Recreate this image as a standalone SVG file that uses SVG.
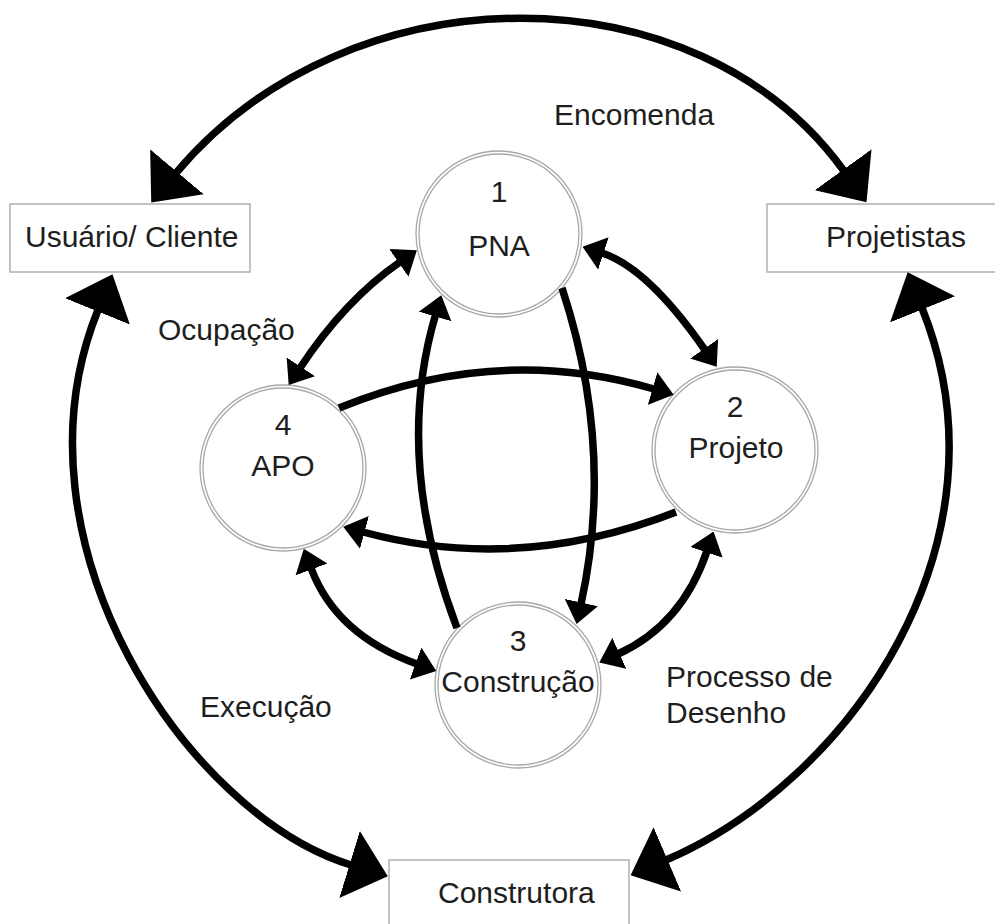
<svg xmlns="http://www.w3.org/2000/svg" width="995" height="924" viewBox="0 0 995 924">
<style>
.lbl{font-family:"Liberation Sans",Arial,sans-serif;font-size:30px;fill:#1e1e1e}
.mid{text-anchor:middle}
.box{fill:#fff;stroke:#b4b4b4;stroke-width:1.6}
.ring{fill:#fff;stroke:#a8a8a8;stroke-width:1.3}
.ring2{fill:none;stroke:#a8a8a8;stroke-width:1.3}
.big{fill:none;stroke:#000;stroke-width:7.5;marker-start:url(#ab);marker-end:url(#ab)}
.dbl{fill:none;stroke:#000;stroke-width:7.5;marker-start:url(#as);marker-end:url(#as)}
.one{fill:none;stroke:#000;stroke-width:7.5;marker-end:url(#as)}
</style>
<defs>
<marker id="ab" viewBox="0 0 40 70" refX="1.5" refY="35" markerWidth="40" markerHeight="70" orient="auto-start-reverse" markerUnits="userSpaceOnUse"><path d="M0,0 L40,35 L0,70 z" fill="#000"/></marker>
<marker id="as" viewBox="0 0 22 34" refX="1.5" refY="17" markerWidth="22" markerHeight="34" orient="auto-start-reverse" markerUnits="userSpaceOnUse"><path d="M0,0 L22,17 L0,34 z" fill="#000"/></marker>
</defs>
<rect width="995" height="924" fill="#fff"/>
<g id="usuario"><rect class="box" x="10" y="204" width="240" height="68"/><text class="lbl" x="25" y="247">Usuário/ Cliente</text></g>
<g id="projetistas"><rect class="box" x="767" y="204" width="240" height="68"/><text class="lbl" x="826" y="247">Projetistas</text></g>
<g id="construtora"><rect class="box" x="389" y="860" width="240" height="80"/><text class="lbl" x="438" y="903">Construtora</text></g>
<g id="pna"><circle class="ring" cx="499" cy="234" r="83"/><circle class="ring2" cx="499" cy="234" r="80"/><text class="lbl mid" x="499" y="202">1</text><text class="lbl mid" x="499" y="256">PNA</text></g>
<g id="projeto"><circle class="ring" cx="735" cy="450" r="83"/><circle class="ring2" cx="735" cy="450" r="80"/><text class="lbl mid" x="735" y="417">2</text><text class="lbl mid" x="736" y="458">Projeto</text></g>
<g id="construcao"><circle class="ring" cx="518" cy="685" r="83"/><circle class="ring2" cx="518" cy="685" r="80"/><text class="lbl mid" x="518" y="651">3</text><text class="lbl mid" x="518" y="692">Construção</text></g>
<g id="apo"><circle class="ring" cx="283" cy="468" r="83"/><circle class="ring2" cx="283" cy="468" r="80"/><text class="lbl mid" x="283" y="435">4</text><text class="lbl mid" x="283" y="476">APO</text></g>
<g id="connectors">
<path class="big" d="M176,173 C349,-33 697,-33 844,171"/>
<path class="big" d="M98,310 C4,542 188,815 351,865"/>
<path class="big" d="M922,308 C1016,542 850,781 666,860"/>
<path class="dbl" d="M300,368 Q345,300 400,262"/>
<path class="dbl" d="M602,253 Q648,268 705,350"/>
<path class="dbl" d="M311,568 Q336,635 417,664"/>
<path class="dbl" d="M707,551 Q682,625 618,654"/>
<path class="one" d="M339,408 Q497,343 654,389"/>
<path class="one" d="M676,512 Q518,574 363,532"/>
<path class="one" d="M562,288 Q615,449 581,604"/>
<path class="one" d="M457,628 Q393,459 435.5,315"/>
</g>
<g id="labels">
<text class="lbl" x="554" y="125">Encomenda</text>
<text class="lbl" x="158" y="340">Ocupação</text>
<text class="lbl" x="200" y="717">Execução</text>
<text class="lbl" x="666" y="687">Processo de</text>
<text class="lbl" x="666" y="723">Desenho</text>
</g>
</svg>
